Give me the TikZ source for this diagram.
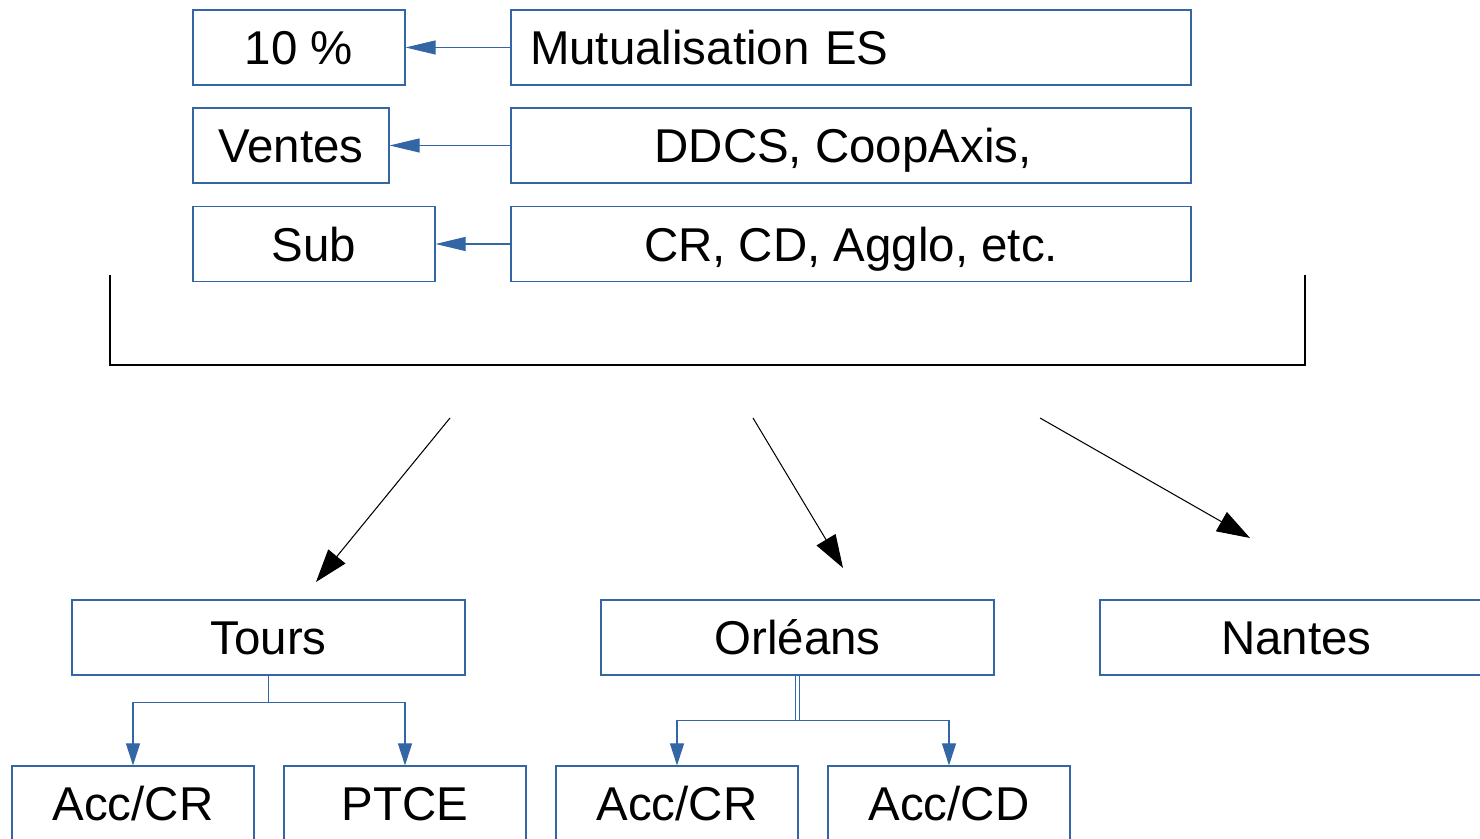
\documentclass[tikz,border=0pt]{standalone}
\usepackage{fontspec}
\setmainfont{Liberation Sans}
\usepackage{tikz}
\usetikzlibrary{shapes, arrows.meta, positioning}
\definecolor{boxblue}{HTML}{3465A4}
\tikzstyle{block} = [draw=boxblue, line width=0.6pt, fill=white, rectangle, minimum height=1.5cm, inner sep=0pt, text height=0.7cm, text depth=0pt, font=\fontsize{27}{32}\selectfont]
\tikzstyle{feed} = [draw=boxblue, line width=0.6pt, -{Triangle[length=0.6cm, width=0.28cm, fill=boxblue]}]
\tikzstyle{split} = [draw=boxblue, line width=0.6pt, -{Triangle[length=0.44cm, width=0.28cm, fill=boxblue]}]
\tikzstyle{flow} = [draw=black, line width=0.6pt, -{Triangle[length=0.66cm, width=0.44cm]}]

\begin{document}
\begin{tikzpicture}[auto]
      \useasboundingbox (0,0) rectangle (29.6,16.78);
      % sources
      \node[block, minimum width=4.24cm] (pct) at (5.98,15.83) {10 \%};
      \node[block, minimum width=13.6cm, text width=12.84cm, inner xsep=0.38cm, align=left] (mutu) at (17.02,15.83) {Mutualisation ES};
      \node[block, minimum width=3.92cm] (ventes) at (5.82,13.87) {Ventes};
      \node[block, minimum width=13.6cm] (ddcs) at (17.02,13.87) {DDCS, CoopAxis,\hspace*{0.32cm}};
      \node[block, minimum width=4.84cm] (sub) at (6.28,11.9) {Sub};
      \node[block, minimum width=13.6cm] (coll) at (17.02,11.9) {CR, CD, Agglo, etc.};
      \draw[feed] (mutu) -- (pct);
      \draw[feed] (ddcs) -- (ventes);
      \draw[feed] (coll) -- (sub);
      % bracket
      \coordinate (bl) at (2.2,11.28);
      \coordinate (br) at (26.1,11.28);
      \draw[line width=0.6pt] (bl) -- (2.2,9.48) -- (26.1,9.48) -- (br);
      % sites
      \node[block, minimum width=7.86cm] (tours) at (5.37,4.03) {Tours};
      \node[block, minimum width=7.86cm] (orleans) at (15.95,4.03) {Orléans};
      \node[block, minimum width=7.86cm] (nantes) at (25.93,4.03) {Nantes};
      \coordinate (t1) at (9.0,8.42);
      \coordinate (h1) at (6.32,5.14);
      \coordinate (t2) at (15.06,8.42);
      \coordinate (h2) at (16.86,5.42);
      \coordinate (t3) at (20.8,8.42);
      \coordinate (h3) at (25.0,6.02);
      \draw[flow] (t1) -- (h1);
      \draw[flow] (t2) -- (h2);
      \draw[flow] (t3) -- (h3);
      % actions
      \node[block, minimum width=4.84cm] (accT) at (2.66,0.71) {Acc/CR};
      \node[block, minimum width=4.84cm] (ptce) at (8.1,0.71) {PTCE};
      \node[block, minimum width=4.84cm] (accO) at (13.54,0.71) {Acc/CR};
      \node[block, minimum width=4.84cm] (accD) at (18.98,0.71) {Acc/CD};
      \draw[draw=boxblue, line width=0.6pt] (tours.south) -- ++(0,-0.54) coordinate (tj);
      \draw[split] (tj) -| (accT.north);
      \draw[split] (tj) -| (ptce.north);
      \draw[draw=boxblue, line width=0.5pt, double, double distance=0.05cm] (orleans.south) -- ++(0,-0.9) coordinate (oj);
      \draw[split] (oj) -| (accO.north);
      \draw[split] (oj) -| (accD.north);
    \end{tikzpicture}
\end{document}
